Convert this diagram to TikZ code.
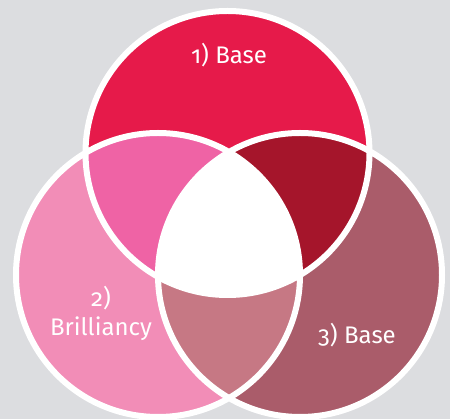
\documentclass[tikz,border=0pt]{standalone}
\usepackage{fontspec}
\setmainfont[Numbers=OldStyle]{Fira Sans}
\definecolor{bggray}{HTML}{DCDDE0}
\definecolor{baseone}{HTML}{E61A4A}
\definecolor{brill}{HTML}{F28DB7}
\definecolor{basethree}{HTML}{AA5C6A}
\definecolor{onetwo}{HTML}{EF63A5}
\definecolor{onethree}{HTML}{A5152B}
\definecolor{twothree}{HTML}{C67884}
\begin{document}
\begin{tikzpicture}[x=1pt,y=-1pt,every node/.style={text=white,font=\fontsize{24}{29}\selectfont,align=center}]
	\fill[bggray](0,0)rectangle(450,419);
	\useasboundingbox(0,0)rectangle(450,419);
	\coordinate(c1)at(227.5,153);
	\coordinate(c2)at(158,275);
	\coordinate(c3)at(300,275);
	\fill[baseone](c1)circle(142);
	\fill[brill](c2)circle(142);
	\fill[basethree](c3)circle(142);
	\begin{scope}\clip(c1)circle(142);\fill[onetwo](c2)circle(142);\end{scope}
	\begin{scope}\clip(c1)circle(142);\fill[onethree](c3)circle(142);\end{scope}
	\begin{scope}\clip(c2)circle(142);\fill[twothree](c3)circle(142);\end{scope}
	\begin{scope}\clip(c1)circle(142);\clip(c2)circle(142);\fill[white](c3)circle(142);\end{scope}
	\draw[white,line width=6](c1)circle(142)(c2)circle(142)(c3)circle(142);
	\node(one)at(229,55){1) Base};
	\node(two)at(101,313){2)\\Brilliancy};
	\node(three)at(357,335){3) Base};
\end{tikzpicture}
\end{document}
